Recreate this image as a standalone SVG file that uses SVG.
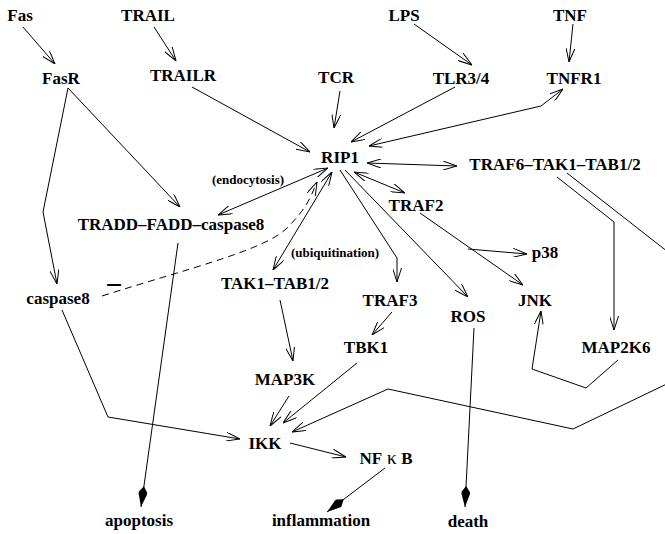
<svg xmlns="http://www.w3.org/2000/svg" width="665" height="534" viewBox="0 0 665 534">
<style>
.n{font-family:"Liberation Serif","Times New Roman",serif;font-weight:bold;font-size:17px;fill:#000;text-anchor:middle}
.s{font-family:"Liberation Serif","Times New Roman",serif;font-weight:bold;font-size:13px;fill:#000;text-anchor:middle}
.c{fill:none;stroke:#000;stroke-width:1}
.a{marker-end:url(#arr)}
.b{marker-start:url(#arr);marker-end:url(#arr)}
.k{marker-end:url(#kite)}
.d{stroke-dasharray:7,5}
</style>
<defs>
<marker id="arr" markerUnits="userSpaceOnUse" viewBox="0 0 14 9" refX="14" refY="4.5" markerWidth="14" markerHeight="9" orient="auto-start-reverse">
<path d="M0,0 L14,4.5 L0,9" fill="none" stroke="#000" stroke-width="1"/>
</marker>
<marker id="kite" markerUnits="userSpaceOnUse" viewBox="0 0 21 10" refX="21" refY="5" markerWidth="21" markerHeight="10" orient="auto">
<path d="M0,5 L6,0.8 L8,0.8 L21,5 L8,9.2 L6,9.2 Z" fill="#000"/>
</marker>
</defs>
<rect width="665" height="534" fill="#fff"/>
<g id="connectors">
<path class="c a" d="M23,27 L55,64"/>
<path class="c a" d="M154,27 L176,61"/>
<path class="c a" d="M414,24 L472,65"/>
<path class="c a" d="M573,24 L569,62"/>
<path class="c a" d="M192,87 L310,152"/>
<path class="c a" d="M340,91 L334,128"/>
<path class="c a" d="M455,87 L351,142"/>
<path class="c b" d="M563,89 L541,106 L369,146"/>
<path class="c b" d="M367,163 L457,166"/>
<path class="c a" d="M68,88 L43,212 L57,284"/>
<path class="c a" d="M68,88 L180,207"/>
<path class="c b" d="M328,168 L218,215"/>
<path class="c a d" d="M102,296 C190,268 265,250 287,228 S311,195 317,182"/>
<path class="c b" d="M332,172 L273,270"/>
<path class="c b" d="M354,172 L405,193"/>
<path class="c a" d="M340,170 L397,258 L397,282"/>
<path class="c a" d="M345,170 L468,297"/>
<path class="c a" d="M420,213 L523,285"/>
<path class="c a" d="M468,249 L527,254"/>
<path class="c a" d="M557,177 L614,222 L614,330"/>
<path class="c a" d="M567,173 L700,277 L700,368 L573,429 L388,389 L292,432"/>
<path class="c a" d="M280,300 L293,361"/>
<path class="c a" d="M289,396 L270,426"/>
<path class="c a" d="M357,363 L283,423"/>
<path class="c a" d="M392,312 L372,335"/>
<path class="c a" d="M62,310 L108,417 L240,439"/>
<path class="c a" d="M618,360 L586,388 L532,369 L541,311"/>
<path class="c a" d="M290,443 L346,457"/>
<path class="c k" d="M178,243 L141,507"/>
<path class="c k" d="M474,328 L465,507"/>
<path class="c k" d="M385,468 L327,512"/>
</g>
<g id="Fas"><text class="n" x="20" y="21">Fas</text></g>
<g id="TRAIL"><text class="n" x="148" y="21">TRAIL</text></g>
<g id="LPS"><text class="n" x="404" y="21">LPS</text></g>
<g id="TNF"><text class="n" x="570" y="21">TNF</text></g>
<g id="FasR"><text class="n" x="61" y="84">FasR</text></g>
<g id="TRAILR"><text class="n" x="183" y="81">TRAILR</text></g>
<g id="TCR"><text class="n" x="336" y="83">TCR</text></g>
<g id="TLR34"><text class="n" x="461" y="84">TLR3/4</text></g>
<g id="TNFR1"><text class="n" x="574" y="84">TNFR1</text></g>
<g id="RIP1"><text class="n" x="340" y="163">RIP1</text></g>
<g id="TRAF6"><text class="n" x="555" y="170">TRAF6–TAK1–TAB1/2</text></g>
<g id="endocytosis"><text class="s" x="248" y="184">(endocytosis)</text></g>
<g id="TRADD"><text class="n" x="171" y="230">TRADD–FADD–caspase8</text></g>
<g id="TRAF2"><text class="n" x="416" y="211">TRAF2</text></g>
<g id="ubiquitination"><text class="s" x="335" y="257">(ubiquitination)</text></g>
<g id="p38"><text class="n" x="545" y="258">p38</text></g>
<g id="TAK1"><text class="n" x="275" y="289">TAK1–TAB1/2</text></g>
<g id="caspase8"><text class="n" x="58" y="304">caspase8</text></g>
<g id="minus"><text class="n" x="114" y="291" style="font-size:27px">–</text></g>
<g id="TRAF3"><text class="n" x="390" y="306">TRAF3</text></g>
<g id="JNK"><text class="n" x="535" y="306">JNK</text></g>
<g id="ROS"><text class="n" x="468" y="322">ROS</text></g>
<g id="TBK1"><text class="n" x="366" y="353">TBK1</text></g>
<g id="MAP2K6"><text class="n" x="616" y="353">MAP2K6</text></g>
<g id="MAP3K"><text class="n" x="285" y="385">MAP3K</text></g>
<g id="IKK"><text class="n" x="265" y="449">IKK</text></g>
<g id="NFkB"><text class="n" x="386" y="464">NF<tspan style="font-weight:normal;font-size:19px"> κ </tspan>B</text></g>
<g id="apoptosis"><text class="n" x="139" y="526">apoptosis</text></g>
<g id="inflammation"><text class="n" x="321" y="526">inflammation</text></g>
<g id="death"><text class="n" x="468" y="527">death</text></g>
</svg>
